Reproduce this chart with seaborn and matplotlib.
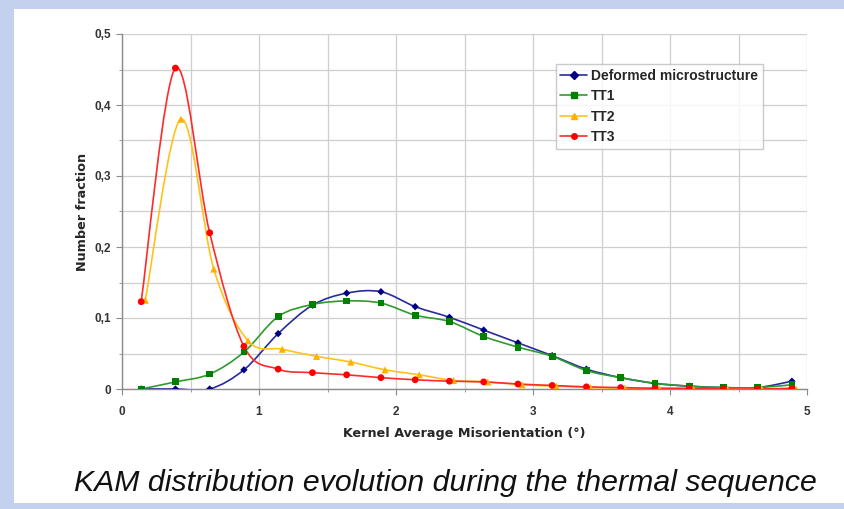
import numpy as np
import pandas as pd
import matplotlib
matplotlib.use("Agg")
import matplotlib.pyplot as plt
import seaborn as sns
from matplotlib.path import Path
from matplotlib.patches import PathPatch, Rectangle
from matplotlib.lines import Line2D
from matplotlib.ticker import MultipleLocator, FuncFormatter

# Bin centres (KAM, degrees)
kam = [0.14, 0.39, 0.64, 0.89, 1.14, 1.39, 1.64, 1.89, 2.14, 2.39,
       2.64, 2.89, 3.14, 3.39, 3.64, 3.89, 4.14, 4.39, 4.64, 4.89]
kam_tt2 = [0.17, 0.43, 0.67, 0.92, 1.17, 1.42, 1.67, 1.92, 2.17, 2.42,
           2.67, 2.92, 3.17, 3.42, 3.67, 3.92, 4.17, 4.42, 4.67, 4.92]

deformed = [0.0, 0.0, 0.0, 0.027, 0.078, 0.118, 0.135, 0.137, 0.116, 0.101,
            0.083, 0.065, 0.047, 0.028, 0.016, 0.008, 0.004, 0.002, 0.002, 0.011]
tt1 = [0.0, 0.010, 0.021, 0.052, 0.102, 0.119, 0.124, 0.121, 0.104, 0.095,
       0.074, 0.059, 0.046, 0.026, 0.016, 0.008, 0.004, 0.002, 0.002, 0.006]
tt2 = [0.125, 0.380, 0.169, 0.068, 0.056, 0.046, 0.038, 0.027, 0.020, 0.012,
       0.010, 0.006, 0.004, 0.002, 0.001, 0.001, 0.0, 0.0, 0.0, 0.0]
tt3 = [0.123, 0.452, 0.220, 0.060, 0.028, 0.023, 0.020, 0.016, 0.013, 0.011,
       0.010, 0.007, 0.005, 0.003, 0.002, 0.001, 0.001, 0.0, 0.0, 0.001]

series_names = ["Deformed microstructure", "TT1", "TT2", "TT3"]
line_colors = ["#2a2a9a", "#2f9a2f", "#ffc21a", "#ff2a2a"]
marker_colors = ["#000080", "#008000", "#ffb000", "#ff0000"]
markers = ["D", "s", "^", "o"]
marker_sizes = [14, 24, 26, 24]

frames = []
for name, xs, ys in zip(series_names, [kam, kam, kam_tt2, kam], [deformed, tt1, tt2, tt3]):
    frames.append(pd.DataFrame({"KAM": xs, "fraction": ys, "sample": name}))
df = pd.concat(frames, ignore_index=True)


def smooth_path(xs, ys):
    # Excel-style smoothed line: cubic Bezier segments through the points
    pts = np.column_stack([xs, ys])
    verts = [pts[0]]
    codes = [Path.MOVETO]
    n = len(pts)
    for i in range(n - 1):
        p0 = pts[max(i - 1, 0)]
        p1 = pts[i]
        p2 = pts[i + 1]
        p3 = pts[min(i + 2, n - 1)]
        c1 = p1 + (p2 - p0) / 6.0
        c2 = p2 - (p3 - p1) / 6.0
        verts += [c1, c2, p2]
        codes += [Path.CURVE4] * 3
    return Path(verts, codes)


sns.set_style("white")
plt.rcParams["font.family"] = ["Liberation Sans", "DejaVu Sans"]

fig = plt.figure(figsize=(8.44, 5.09), dpi=100)
fig.patch.set_facecolor("#c3d1ee")
# white slide panel, kept behind the axes
fig.add_artist(Rectangle((14 / 844, 6 / 509), 830 / 844, 494 / 509,
                         transform=fig.transFigure, facecolor="white",
                         edgecolor="none", zorder=-10))

ax = fig.add_axes([122 / 844, 120 / 509, 685 / 844, 355 / 509])
ax.set_facecolor("white")

for name, lc in zip(series_names, line_colors):
    sub = df[df["sample"] == name]
    ax.add_patch(PathPatch(smooth_path(sub["KAM"].values, sub["fraction"].values),
                           facecolor="none", edgecolor=lc, lw=1.2, zorder=3))

sns.scatterplot(data=df, x="KAM", y="fraction", hue="sample", style="sample",
                hue_order=series_names, style_order=series_names,
                palette=dict(zip(series_names, marker_colors)),
                markers=dict(zip(series_names, markers)),
                size="sample", sizes=dict(zip(series_names, marker_sizes)),
                linewidth=0, legend=False, zorder=4, ax=ax)

ax.set_xlim(0, 5)
ax.set_ylim(0, 0.5)
ax.xaxis.set_major_locator(MultipleLocator(1))
ax.xaxis.set_minor_locator(MultipleLocator(0.5))
ax.yaxis.set_major_locator(MultipleLocator(0.1))
ax.yaxis.set_minor_locator(MultipleLocator(0.05))
ax.yaxis.set_major_formatter(FuncFormatter(lambda v, p: ("%g" % round(v, 2)).replace(".", ",")))
ax.grid(which="both", color="#cfcfcf", lw=0.9)
ax.set_axisbelow(True)
for side in ["top", "right"]:
    ax.spines[side].set_visible(False)
for side in ["left", "bottom"]:
    ax.spines[side].set_color("#8a8a8a")
    ax.spines[side].set_linewidth(1.0)
ax.tick_params(which="both", direction="out", color="#8a8a8a", left=True, bottom=True)
ax.tick_params(which="major", length=4, labelsize=8.5)
ax.tick_params(axis="x", which="major", pad=8)
ax.tick_params(axis="y", which="major", pad=4)
ax.tick_params(which="minor", length=2)
for lbl in ax.get_xticklabels() + ax.get_yticklabels():
    lbl.set_fontweight("bold")
    lbl.set_color("#333333")

ax.set_xlabel("Kernel Average Misorientation (°)", fontsize=9.2, fontweight="bold",
              family="DejaVu Sans", labelpad=7)
ax.set_ylabel("Number fraction", fontsize=9.2, fontweight="bold",
              family="DejaVu Sans", labelpad=4)

handles = [Line2D([0], [0], color=lc, marker=m, markerfacecolor=mc, markeredgecolor=mc,
                  markersize=4, lw=1.2)
           for lc, mc, m in zip(line_colors, marker_colors, markers)]
leg = ax.legend(handles, series_names, loc="upper left", bbox_to_anchor=(0.633, 0.915),
                frameon=True, fancybox=False, prop={"weight": "bold", "size": 10},
                handlelength=1.9, borderpad=0.35, labelspacing=0.45, handletextpad=0.3,
                borderaxespad=0)
leg.get_frame().set_edgecolor("#bdbdbd")
leg.get_frame().set_linewidth(1.0)

fig.text(445 / 844, 1 - 483 / 509, "KAM distribution evolution during the thermal sequence",
         ha="center", va="center", fontsize=21.8, style="italic", color="#111111")

fig.savefig("out.png", dpi=100, facecolor=fig.get_facecolor())
